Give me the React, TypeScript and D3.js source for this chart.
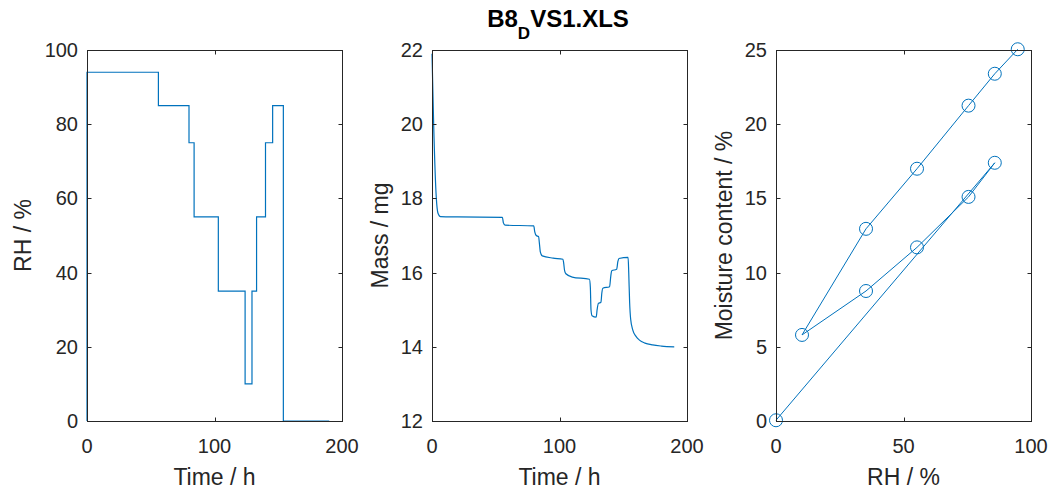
import React from 'react';
import * as d3 from 'd3';

// RH step programme (time in h, RH in %)
const rhTime = [0, 0, 56, 80, 84, 103, 124, 129.4, 133, 140, 145.6, 154, 190];
const rhValue = [0, 94, 85, 75, 55, 35, 10, 35, 55, 75, 85, 0, 0];

// sample mass (time in h, mass in mg)
const massTime = [
  0, 1.3, 3.4, 4.7, 6.6, 20, 55.2, 56, 57.3, 79.8, 80.6, 81.8, 83.6, 84.2, 85, 86.5, 95, 102.7,
  103.3, 104, 105, 110, 123.5, 124.2, 124.7, 125.5, 128.8, 129.5, 130.5, 132.5, 133.2, 134, 139.3,
  140.2, 141, 144.8, 145.8, 146.6, 153.8, 154.3, 155, 155.8, 157.5, 160, 162.7, 167, 173, 180, 190,
];
const massValue = [
  21.9, 20.0, 18.0, 17.6, 17.51, 17.5, 17.49, 17.34, 17.28, 17.26, 17.1, 17.0, 16.97, 16.8, 16.55,
  16.45, 16.39, 16.36, 16.25, 16.05, 15.97, 15.88, 15.82, 15.6, 15.0, 14.84, 14.8, 15.0, 15.17,
  15.2, 15.45, 15.58, 15.62, 15.9, 16.05, 16.09, 16.3, 16.38, 16.41, 16.0, 15.2, 14.75, 14.45,
  14.28, 14.18, 14.1, 14.05, 14.02, 14.0,
];

// sorption isotherm (RH in %, moisture content in %)
const isoRH = [94.8, 85.8, 75.5, 55.3, 35.3, 10.2, 35.3, 55.3, 75.5, 85.8, 0];
const isoMC = [25.05, 23.4, 21.25, 17.0, 12.95, 5.8, 8.76, 11.7, 15.1, 17.4, 0.05];

const timeTicks = [0, 100, 200];
const rhTicks = [0, 20, 40, 60, 80, 100];
const massTicks = [12, 14, 16, 18, 20, 22];
const isoRHTicks = [0, 50, 100];
const mcTicks = [0, 5, 10, 15, 20, 25];

const W = 1052;
const H = 490;
const TOP = 50;
const BOTTOM = 421;
const PW = 255;
const AXIS = '#262626';
const BLUE = '#0072BD';
const FONT = '"Liberation Sans", Arial, Helvetica, sans-serif';

type PanelProps = {
  x0: number;
  xDomain: [number, number];
  yDomain: [number, number];
  xTicks: number[];
  yTicks: number[];
  xLabel: string;
  yLabel: string;
  labelOffset: number;
  draw: (x: d3.ScaleLinear<number, number>, y: d3.ScaleLinear<number, number>) => React.ReactNode;
};

function Panel(props: PanelProps) {
  const { x0, xDomain, yDomain, xTicks, yTicks, xLabel, yLabel, labelOffset, draw } = props;
  const x = d3.scaleLinear().domain(xDomain).range([x0, x0 + PW]);
  const y = d3.scaleLinear().domain(yDomain).range([BOTTOM, TOP]);
  const tl = 4;
  return (
    <g>
      <g>{draw(x, y)}</g>
      <rect x={x0 + 0.5} y={TOP + 0.5} width={PW} height={BOTTOM - TOP} fill="none" stroke={AXIS} strokeWidth={1} />
      {xTicks.map((t) => {
        const px = Math.round(x(t)) + 0.5;
        return (
          <g key={'x' + t}>
            <line x1={px} x2={px} y1={BOTTOM + 0.5} y2={BOTTOM + 0.5 - tl} stroke={AXIS} />
            <line x1={px} x2={px} y1={TOP + 0.5} y2={TOP + 0.5 + tl} stroke={AXIS} />
            <text x={x(t)} y={453} textAnchor="middle" fontSize={20} fill={AXIS} fontFamily={FONT}>
              {t}
            </text>
          </g>
        );
      })}
      {yTicks.map((t) => {
        const py = Math.round(y(t)) + 0.5;
        return (
          <g key={'y' + t}>
            <line x1={x0 + 0.5} x2={x0 + 0.5 + tl} y1={py} y2={py} stroke={AXIS} />
            <line x1={x0 + PW + 0.5} x2={x0 + PW + 0.5 - tl} y1={py} y2={py} stroke={AXIS} />
            <text x={x0 - 9} y={y(t) + 7} textAnchor="end" fontSize={20} fill={AXIS} fontFamily={FONT}>
              {t}
            </text>
          </g>
        );
      })}
      <text x={x0 + PW / 2} y={485} textAnchor="middle" fontSize={23} fill={AXIS} fontFamily={FONT}>
        {xLabel}
      </text>
      <text
        transform={`translate(${x0 - labelOffset},${(TOP + BOTTOM) / 2}) rotate(-90)`}
        textAnchor="middle"
        fontSize={23}
        fill={AXIS}
        fontFamily={FONT}
      >
        {yLabel}
      </text>
    </g>
  );
}

export default function App() {
  const rhData = rhTime.map((t, i) => [t, rhValue[i]] as [number, number]);
  const massData = massTime.map((t, i) => [t, massValue[i]] as [number, number]);
  const isoData = isoRH.map((r, i) => [r, isoMC[i]] as [number, number]);

  return (
    <svg width={W} height={H} style={{ position: 'absolute', left: 0, top: 0, background: '#fff' }}>
      <rect width={W} height={H} fill="#fff" />
      <text x={558} y={27} textAnchor="middle" fontSize={24} fontWeight="bold" fill="#000" fontFamily={FONT}>
        B8
        <tspan dy={12} fontSize={17}>D</tspan>
        <tspan dy={-12}>VS1.XLS</tspan>
      </text>

      <Panel
        x0={87}
        xDomain={[0, 200]}
        yDomain={[0, 100]}
        xTicks={timeTicks}
        yTicks={rhTicks}
        xLabel="Time / h"
        yLabel="RH / %"
        labelOffset={56}
        draw={(x, y) => {
          const line = d3
            .line<[number, number]>()
            .x((d) => x(d[0]))
            .y((d) => y(d[1]))
            .curve(d3.curveStepAfter);
          return <path d={line(rhData) || ''} fill="none" stroke={BLUE} strokeWidth={1.2} />;
        }}
      />

      <Panel
        x0={432}
        xDomain={[0, 200]}
        yDomain={[12, 22]}
        xTicks={timeTicks}
        yTicks={massTicks}
        xLabel="Time / h"
        yLabel="Mass / mg"
        labelOffset={44}
        draw={(x, y) => {
          const line = d3
            .line<[number, number]>()
            .x((d) => x(d[0]))
            .y((d) => y(d[1]))
            .curve(d3.curveMonotoneX);
          return <path d={line(massData) || ''} fill="none" stroke={BLUE} strokeWidth={1.2} />;
        }}
      />

      <Panel
        x0={776}
        xDomain={[0, 100]}
        yDomain={[0, 25]}
        xTicks={isoRHTicks}
        yTicks={mcTicks}
        xLabel="RH / %"
        yLabel="Moisture content / %"
        labelOffset={44}
        draw={(x, y) => {
          const line = d3
            .line<[number, number]>()
            .x((d) => x(d[0]))
            .y((d) => y(d[1]));
          return (
            <g>
              <path d={line(isoData) || ''} fill="none" stroke={BLUE} strokeWidth={1} />
              {isoData.map((d, i) => (
                <circle key={i} cx={x(d[0])} cy={y(d[1])} r={6.5} fill="none" stroke={BLUE} strokeWidth={1} />
              ))}
            </g>
          );
        }}
      />
    </svg>
  );
}
